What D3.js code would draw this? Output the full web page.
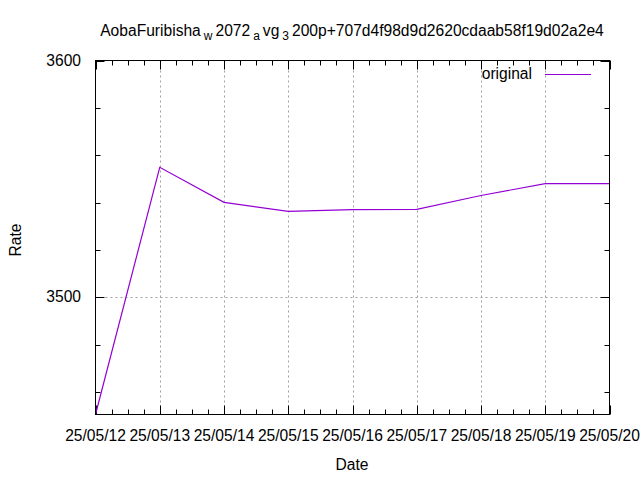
<!DOCTYPE html>
<html><head><meta charset="utf-8">
<script src="https://cdn.jsdelivr.net/npm/d3@7"></script>
<style>body{margin:0;background:#fff}svg{display:block}text{font-family:"Liberation Sans",Arial,sans-serif;fill:#000}</style>
</head><body>
<svg id="c" width="640" height="480"></svg>
<script>
const dates = ["2025-05-12","2025-05-13","2025-05-14","2025-05-15","2025-05-16","2025-05-17","2025-05-18","2025-05-19","2025-05-20"];
const rates = [3450.5, 3554.9, 3540.1, 3536.3, 3537.0, 3537.1, 3543.0, 3548.0, 3548.0];
const yTicks = [3500, 3600];
const yMinorTicks = [3460, 3480, 3520, 3540, 3560, 3580];
const yDomain = [3450.5, 3600];
const seriesName = "original";
const titleParts = [["AobaFuribisha",0],["w",1],["2072",0],["a",1],["vg",0],["3",1],["200p+707d4f98d9d2620cdaab58f19d02a2e4",0]];

const FS = 15.6, FSS = 12;
const parse = d3.utcParse("%Y-%m-%d");
const data = dates.map((d,i)=>({t:parse(d), v:rates[i]}));
const L=95.5, R=609.5, T=60.5, B=414.5;
const svg = d3.select("#c");
const x = d3.scaleUtc().domain([data[0].t, data[data.length-1].t]).range([L,R]);
const y = d3.scaleLinear().domain(yDomain).range([B,T]);
const fmt = d3.utcFormat("%y/%m/%d");
const grid = "#a0a0a0";

// grid
const majorX = data.map(d=>d.t);
svg.append("g").selectAll("line").data(majorX.slice(1,-1)).join("line")
  .attr("x1",d=>Math.round(x(d))+0.5).attr("x2",d=>Math.round(x(d))+0.5).attr("y1",T).attr("y2",B)
  .attr("stroke",grid).attr("stroke-width",1).attr("stroke-dasharray","2,3");
svg.append("g").selectAll("line").data(yTicks.filter(v=>v<yDomain[1])).join("line")
  .attr("x1",L).attr("x2",R).attr("y1",d=>Math.round(y(d))+0.5).attr("y2",d=>Math.round(y(d))+0.5)
  .attr("stroke",grid).attr("stroke-width",1).attr("stroke-dasharray","2,3");

// ticks
const tk = svg.append("g").attr("stroke","#000").attr("stroke-width",1);
const minorX = d3.utcHour.every(6).range(data[0].t, data[data.length-1].t).filter(d=>d.getUTCHours()!==0);
majorX.forEach(d=>{const px=Math.round(x(d))+0.5;
  tk.append("line").attr("x1",px).attr("x2",px).attr("y1",B).attr("y2",B-9);
  tk.append("line").attr("x1",px).attr("x2",px).attr("y1",T).attr("y2",T+9);});
minorX.forEach(d=>{const px=Math.round(x(d))+0.5;
  tk.append("line").attr("x1",px).attr("x2",px).attr("y1",B).attr("y2",B-5);
  tk.append("line").attr("x1",px).attr("x2",px).attr("y1",T).attr("y2",T+5);});
yTicks.forEach(v=>{const py=Math.round(y(v))+0.5;
  tk.append("line").attr("x1",L).attr("x2",L+9).attr("y1",py).attr("y2",py);
  tk.append("line").attr("x1",R).attr("x2",R-9).attr("y1",py).attr("y2",py);});
yMinorTicks.forEach(v=>{const py=Math.round(y(v))+0.5;
  tk.append("line").attr("x1",L).attr("x2",L+5).attr("y1",py).attr("y2",py);
  tk.append("line").attr("x1",R).attr("x2",R-5).attr("y1",py).attr("y2",py);});

// tick labels
svg.append("g").selectAll("text").data(majorX).join("text")
  .attr("x",d=>x(d)).attr("y",441).attr("text-anchor","middle").attr("font-size",FS).text(d=>fmt(d));
svg.append("g").selectAll("text").data(yTicks).join("text")
  .attr("x",81).attr("y",d=>y(d)+5).attr("text-anchor","end").attr("font-size",FS).text(d=>d);

// line
svg.append("path").datum(data).attr("fill","none").attr("stroke","#9400d3").attr("stroke-width",1.2)
  .attr("d",d3.line().x(d=>x(d.t)).y(d=>y(d.v)));

// border
svg.append("rect").attr("x",L).attr("y",T).attr("width",R-L).attr("height",B-T)
  .attr("fill","none").attr("stroke","#000").attr("stroke-width",1);

// legend
svg.append("text").attr("x",532).attr("y",79).attr("text-anchor","end").attr("font-size",FS).text(seriesName);
svg.append("line").attr("x1",545).attr("x2",591).attr("y1",74.5).attr("y2",74.5).attr("stroke","#9400d3").attr("stroke-width",1.2);

// axis labels
svg.append("text").attr("x",352).attr("y",470).attr("text-anchor","middle").attr("font-size",FS).text("Date");
svg.append("text").attr("transform","translate(21,240) rotate(-90)").attr("text-anchor","middle").attr("font-size",FS).text("Rate");

// title
const tt = svg.append("text").attr("x",352).attr("y",36).attr("text-anchor","middle").attr("font-size",FS);
titleParts.forEach(([s,sub],i)=>{
  const ts = tt.append("tspan").text(s);
  const prev = i>0 ? titleParts[i-1][1] : 0;
  if(sub){ts.attr("font-size",FSS).attr("dy",4).attr("dx",3);}
  else if(prev){ts.attr("dy",-4).attr("dx",3);}
});
</script>
</body></html>
